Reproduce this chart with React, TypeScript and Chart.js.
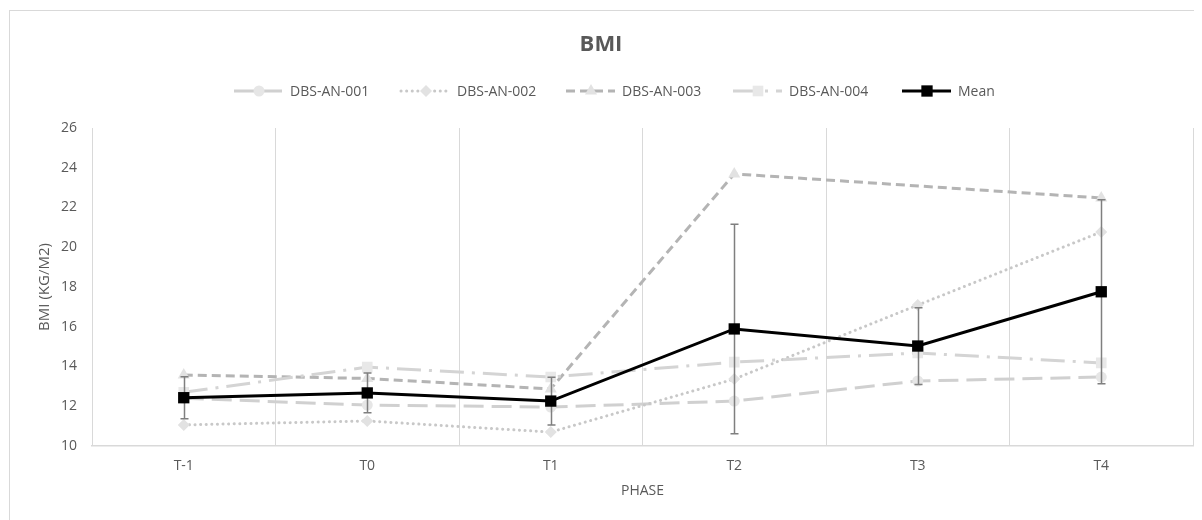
import { useEffect, useRef } from 'react';
import { Chart, registerables } from 'chart.js';
import { drawPoint } from 'chart.js/helpers';

Chart.register(...registerables);

const chartTitle = 'BMI';
const xTitle = 'PHASE';
const yTitle = 'BMI (KG/M2)';
const phases = ['T-1', 'T0', 'T1', 'T2', 'T3', 'T4'];
const seriesNames = ['DBS-AN-001', 'DBS-AN-002', 'DBS-AN-003', 'DBS-AN-004', 'Mean'];
const dbs001 = [12.4, 12.06, 11.96, 12.26, 13.27, 13.47];
const dbs002 = [11.06, 11.26, 10.7, 13.37, 17.09, 20.77];
const dbs003 = [13.57, 13.4, 12.87, 23.69, null, 22.48];
const dbs004 = [12.7, 13.97, 13.47, 14.22, 14.68, 14.18];
const meanVals = [12.43, 12.67, 12.26, 15.89, 15.03, 17.76];
const meanSd = [1.06, 1.0, 1.2, 5.27, 1.93, 4.63];
const yMin = 10;
const yMax = 26;
const yStep = 2;

const FONT = '"Open Sans", "DejaVu Sans", sans-serif';
const TXT = '#595959';
const legendX = [226, 393, 558, 725, 894];

const styles = [
  { line: '#d0d0d0', point: '#e6e6e6', dash: [20, 8], shape: 'circle', r: 5.5, cap: 'butt' },
  { line: '#c8c8c8', point: '#e2e2e2', dash: [0.1, 5.5], shape: 'rectRot', r: 6, cap: 'round' },
  { line: '#b4b4b4', point: '#e2e2e2', dash: [9, 5], shape: 'triangle', r: 7, cap: 'butt' },
  { line: '#d4d4d4', point: '#e8e8e8', dash: [24, 8, 3, 8], shape: 'rect', r: 7.5, cap: 'butt' },
  { line: '#000000', point: '#000000', dash: [], shape: 'rect', r: 8, cap: 'butt' },
];

const decor = {
  id: 'decor',
  beforeDraw(chart: any) {
    const ctx = chart.ctx as CanvasRenderingContext2D;
    const area = chart.chartArea;
    ctx.save();
    ctx.strokeStyle = '#d9d9d9';
    ctx.lineWidth = 1;
    ctx.strokeRect(1.5, 2.5, chart.width + 10, chart.height + 10);
    ctx.fillStyle = TXT;
    ctx.textAlign = 'center';
    ctx.textBaseline = 'middle';
    ctx.font = `bold 22px ${FONT}`;
    ctx.fillText(chartTitle, 593, 37);
    ctx.font = `14px ${FONT}`;
    ctx.fillText(xTitle, (area.left + area.right) / 2, 483);
    ctx.save();
    ctx.translate(37, (area.top + area.bottom) / 2);
    ctx.rotate(-Math.PI / 2);
    ctx.font = `15px ${FONT}`;
    ctx.fillText(yTitle, 0, 0);
    ctx.restore();
    ctx.font = `14px ${FONT}`;
    ctx.textAlign = 'left';
    const y = 83;
    seriesNames.forEach((name, i) => {
      const s = styles[i];
      const x = legendX[i];
      ctx.save();
      ctx.strokeStyle = s.line;
      ctx.lineWidth = 3;
      ctx.lineCap = s.cap as CanvasLineCap;
      ctx.setLineDash(s.dash);
      ctx.beginPath();
      ctx.moveTo(x, y);
      ctx.lineTo(x + 49, y);
      ctx.stroke();
      ctx.restore();
      ctx.save();
      ctx.fillStyle = s.point;
      ctx.strokeStyle = s.point;
      drawPoint(ctx, { pointStyle: s.shape as any, radius: s.r, rotation: 0, borderWidth: 0 } as any, x + 25, y);
      ctx.restore();
      ctx.fillStyle = TXT;
      ctx.fillText(name, x + 56, y + 1);
    });
    ctx.restore();
  },
  beforeDatasetDraw(chart: any, args: any) {
    if (args.index !== 4) return;
    const ctx = chart.ctx as CanvasRenderingContext2D;
    const xs = chart.scales.x;
    const ys = chart.scales.y;
    ctx.save();
    ctx.strokeStyle = '#7f7f7f';
    ctx.lineWidth = 1.5;
    meanVals.forEach((m, i) => {
      const px = Math.round(xs.getPixelForValue(i)) + 0.5;
      const top = ys.getPixelForValue(m + meanSd[i]);
      const bot = ys.getPixelForValue(m - meanSd[i]);
      ctx.beginPath();
      ctx.moveTo(px, top);
      ctx.lineTo(px, bot);
      ctx.moveTo(px - 4, top);
      ctx.lineTo(px + 4, top);
      ctx.moveTo(px - 4, bot);
      ctx.lineTo(px + 4, bot);
      ctx.stroke();
    });
    ctx.restore();
  },
};

export default function App() {
  const ref = useRef<HTMLCanvasElement>(null);
  useEffect(() => {
    const seriesData = [dbs001, dbs002, dbs003, dbs004, meanVals];
    const datasets = seriesData.map((d, i) => {
      const s = styles[i];
      return {
        label: seriesNames[i],
        data: d,
        borderColor: s.line,
        borderWidth: 3,
        borderDash: s.dash,
        borderCapStyle: s.cap,
        backgroundColor: s.point,
        pointStyle: s.shape,
        pointRadius: s.r,
        pointBackgroundColor: s.point,
        pointBorderColor: s.point,
        pointBorderWidth: 0,
        tension: 0,
        spanGaps: true,
        order: 5 - i,
      };
    });
    const chart = new Chart(ref.current!, {
      type: 'line',
      data: { labels: phases, datasets: datasets as any },
      options: {
        responsive: false,
        animation: false,
        events: [],
        layout: { padding: { top: 120, right: 9, left: 0, bottom: 0 } },
        plugins: { legend: { display: false }, title: { display: false }, tooltip: { enabled: false } },
        scales: {
          x: {
            offset: true,
            grid: { offset: true, color: '#d9d9d9', drawTicks: false, lineWidth: 1 },
            border: { display: true, color: '#d9d9d9', width: 1.5 },
            ticks: { color: TXT, font: { family: FONT, size: 14 }, padding: 12 },
            afterFit(s: any) { s.height = 74; },
          },
          y: {
            min: yMin,
            max: yMax,
            grid: { display: false, drawTicks: false },
            border: { display: false },
            ticks: { stepSize: yStep, color: TXT, font: { family: FONT, size: 14 }, padding: 15 },
            afterFit(s: any) { s.width = 84; },
          },
        },
      },
      plugins: [decor],
    });
    return () => chart.destroy();
  }, []);
  return <canvas ref={ref} width={1194} height={512} style={{ display: 'block' }} />;
}
